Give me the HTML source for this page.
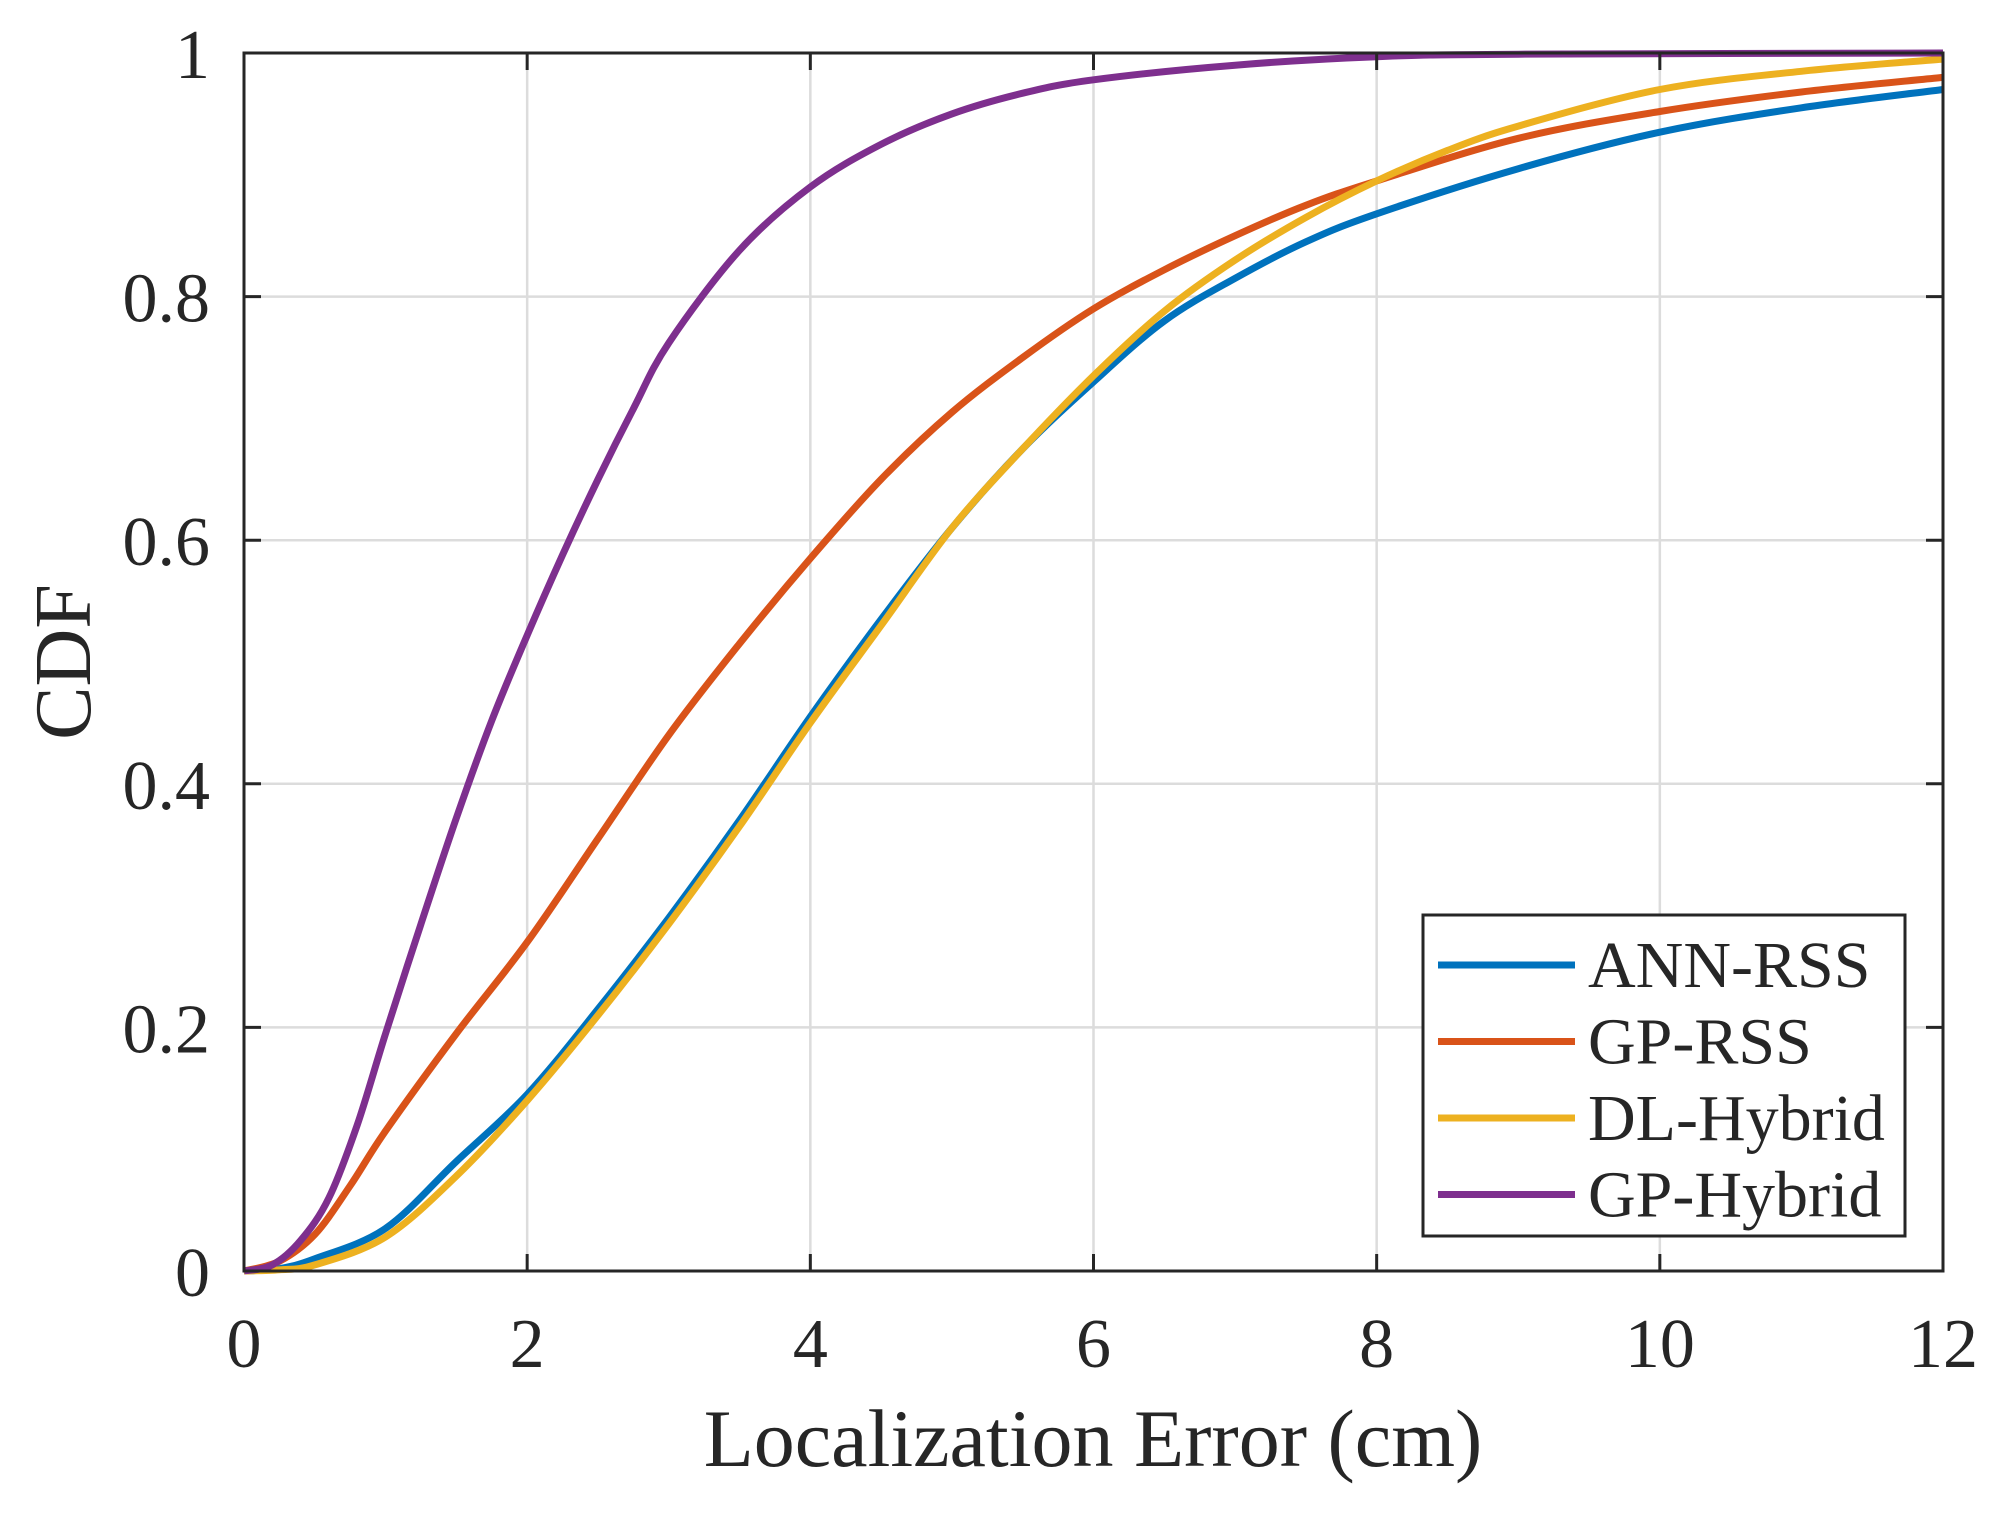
<!DOCTYPE html>
<html><head><meta charset="utf-8"><style>
html,body{margin:0;padding:0;background:#fff;}
svg{display:block;}
text{font-family:"Liberation Serif",serif;fill:#262626;}
</style></head><body>
<svg id="s" width="1992" height="1513" viewBox="0 0 1992 1513" xmlns="http://www.w3.org/2000/svg"></svg>
<script>
const X0=244,X1=1943,Y0=53,Y1=1271;
const sx=u=>X0+(X1-X0)*u/12, sy=p=>Y1-(Y1-Y0)*p;
let h='';
for(let u=2;u<12;u+=2)h+=`<line x1="${sx(u)}" y1="${Y0}" x2="${sx(u)}" y2="${Y1}" stroke="#dcdcdc" stroke-width="2.5"/>`;
for(let i=1;i<5;i++){const y=sy(i*0.2);h+=`<line x1="${X0}" y1="${y}" x2="${X1}" y2="${y}" stroke="#dcdcdc" stroke-width="2.5"/>`;}
const series=[
 ['#0072BD',[[0,0],[0.25,0.002],[0.5,0.01],[1,0.035],[1.5,0.09],[2,0.145],[2.5,0.215],[3,0.29],[3.5,0.37],[4,0.455],[4.5,0.535],[5,0.61],[5.5,0.675],[6,0.73],[6.5,0.78],[7,0.815],[7.5,0.845],[8,0.868],[9,0.905],[10,0.935],[11,0.955],[12,0.97]]],
 ['#D95319',[[0,0],[0.25,0.008],[0.5,0.03],[0.75,0.07],[1,0.115],[1.5,0.195],[2,0.27],[2.5,0.355],[3,0.44],[3.5,0.515],[4,0.585],[4.5,0.65],[5,0.705],[5.5,0.75],[6,0.79],[6.5,0.822],[7,0.85],[7.5,0.875],[8,0.895],[9,0.93],[10,0.952],[11,0.968],[12,0.98]]],
 ['#EDB120',[[0,0],[0.25,0.001],[0.5,0.005],[1,0.028],[1.5,0.078],[2,0.14],[2.5,0.21],[3,0.285],[3.5,0.365],[4,0.45],[4.5,0.53],[5,0.61],[5.5,0.675],[6,0.735],[6.5,0.788],[7,0.83],[7.5,0.865],[8,0.895],[8.5,0.92],[9,0.94],[10,0.97],[11,0.985],[12,0.995]]],
 ['#7E2F8E',[[0,0],[0.2,0.005],[0.4,0.025],[0.6,0.06],[0.8,0.12],[1,0.195],[1.25,0.285],[1.5,0.372],[1.75,0.452],[2,0.522],[2.25,0.588],[2.5,0.65],[2.75,0.708],[3,0.762],[3.5,0.838],[4,0.89],[4.5,0.925],[5,0.95],[5.5,0.967],[6,0.978],[7,0.99],[8,0.997],[9,0.999],[12,1]]]
];
for(const [c,pts] of series){
 const P=pts.map(([u,p])=>[sx(u),sy(p)]);
 let d=`M${P[0][0]},${P[0][1]}`;
 for(let i=0;i<P.length-1;i++){
  const p0=P[i-1]||P[i],p1=P[i],p2=P[i+1],p3=P[i+2]||P[i+1];
  const c1=[p1[0]+(p2[0]-p0[0])/6,p1[1]+(p2[1]-p0[1])/6];
  const c2=[p2[0]-(p3[0]-p1[0])/6,p2[1]-(p3[1]-p1[1])/6];
  d+=`C${c1[0].toFixed(1)},${c1[1].toFixed(1)} ${c2[0].toFixed(1)},${c2[1].toFixed(1)} ${p2[0].toFixed(1)},${p2[1].toFixed(1)}`;
 }
 h+=`<path d="${d}" fill="none" stroke="${c}" stroke-width="7" stroke-linejoin="round"/>`;
}
h+=`<rect x="${X0}" y="${Y0}" width="${X1-X0}" height="${Y1-Y0}" fill="none" stroke="#262626" stroke-width="3"/>`;
for(let u=0;u<=12;u+=2){const x=sx(u);h+=`<line x1="${x}" y1="${Y1}" x2="${x}" y2="${Y1-17}" stroke="#262626" stroke-width="3"/><line x1="${x}" y1="${Y0}" x2="${x}" y2="${Y0+17}" stroke="#262626" stroke-width="3"/>`;
 h+=`<text x="${x}" y="1367" font-size="70" text-anchor="middle">${u}</text>`;}
for(let i=0;i<=5;i++){const y=sy(i*0.2);h+=`<line x1="${X0}" y1="${y}" x2="${X0+17}" y2="${y}" stroke="#262626" stroke-width="3"/><line x1="${X1}" y1="${y}" x2="${X1-17}" y2="${y}" stroke="#262626" stroke-width="3"/>`;
 const lab=i==0?'0':i==5?'1':(i*0.2).toFixed(1);
 h+=`<text x="210" y="${y+25}" font-size="70" text-anchor="end">${lab}</text>`;}
h+=`<text x="1093" y="1466" font-size="82" text-anchor="middle">Localization Error (cm)</text>`;
h+=`<text transform="translate(90,662) rotate(-90)" font-size="80" text-anchor="middle">CDF</text>`;
h+=`<rect x="1423" y="915" width="482" height="321" fill="#fff" stroke="#262626" stroke-width="3"/>`;
const names=['ANN-RSS','GP-RSS','DL-Hybrid','GP-Hybrid'];
names.forEach((n,i)=>{const y=965+i*76.5;h+=`<line x1="1438" y1="${y}" x2="1575" y2="${y}" stroke="${series[i][0]}" stroke-width="7"/><text x="1588" y="${y+22}" font-size="66">${n}</text>`;});
document.getElementById('s').innerHTML=h;
</script>
</body></html>
